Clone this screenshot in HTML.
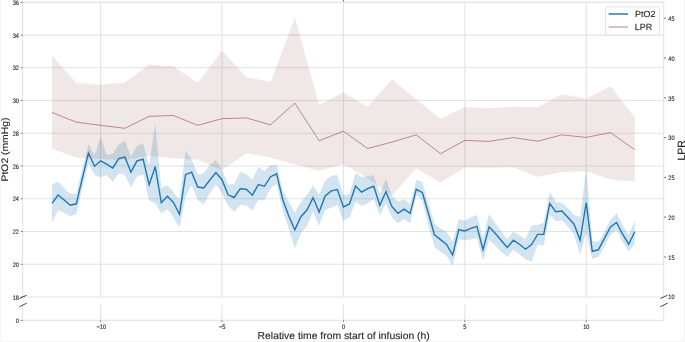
<!DOCTYPE html>
<html><head><meta charset="utf-8"><style>
html,body{margin:0;padding:0;background:#fff;}
body{width:685px;height:342px;overflow:hidden;}
svg{display:block;will-change:transform;}
text{font-family:"Liberation Sans", sans-serif;fill:#262626;stroke:#262626;stroke-width:0.12px;}
svg{text-rendering:geometricPrecision;}
</style></head><body>
<svg width="685" height="342" viewBox="0 0 685 342">
<rect x="0" y="0" width="685" height="342" fill="#fff"/>
<path d="M0.5 0V341.5H684.5V0" fill="none" stroke="#f4f4f4" stroke-width="1"/>
<line x1="22.6" x2="663.7" y1="297.00" y2="297.00" stroke="#e3e3e3" stroke-width="1.1"/>
<line x1="22.6" x2="663.7" y1="264.26" y2="264.26" stroke="#e3e3e3" stroke-width="1.1"/>
<line x1="22.6" x2="663.7" y1="231.52" y2="231.52" stroke="#e3e3e3" stroke-width="1.1"/>
<line x1="22.6" x2="663.7" y1="198.78" y2="198.78" stroke="#e3e3e3" stroke-width="1.1"/>
<line x1="22.6" x2="663.7" y1="166.04" y2="166.04" stroke="#e3e3e3" stroke-width="1.1"/>
<line x1="22.6" x2="663.7" y1="133.30" y2="133.30" stroke="#e3e3e3" stroke-width="1.1"/>
<line x1="22.6" x2="663.7" y1="100.56" y2="100.56" stroke="#e3e3e3" stroke-width="1.1"/>
<line x1="22.6" x2="663.7" y1="67.82" y2="67.82" stroke="#e3e3e3" stroke-width="1.1"/>
<line x1="22.6" x2="663.7" y1="35.08" y2="35.08" stroke="#e3e3e3" stroke-width="1.1"/>
<line x1="22.6" x2="663.7" y1="2.34" y2="2.34" stroke="#e3e3e3" stroke-width="1.1"/>
<line x1="100.60" x2="100.60" y1="2.4" y2="296.9" stroke="#e3e3e3" stroke-width="1.1"/>
<line x1="100.60" x2="100.60" y1="304.6" y2="320.4" stroke="#e3e3e3" stroke-width="1.1"/>
<line x1="222.00" x2="222.00" y1="2.4" y2="296.9" stroke="#e3e3e3" stroke-width="1.1"/>
<line x1="222.00" x2="222.00" y1="304.6" y2="320.4" stroke="#e3e3e3" stroke-width="1.1"/>
<line x1="343.40" x2="343.40" y1="2.4" y2="296.9" stroke="#e3e3e3" stroke-width="1.1"/>
<line x1="343.40" x2="343.40" y1="304.6" y2="320.4" stroke="#e3e3e3" stroke-width="1.1"/>
<line x1="464.80" x2="464.80" y1="2.4" y2="296.9" stroke="#e3e3e3" stroke-width="1.1"/>
<line x1="464.80" x2="464.80" y1="304.6" y2="320.4" stroke="#e3e3e3" stroke-width="1.1"/>
<line x1="586.20" x2="586.20" y1="2.4" y2="296.9" stroke="#e3e3e3" stroke-width="1.1"/>
<line x1="586.20" x2="586.20" y1="304.6" y2="320.4" stroke="#e3e3e3" stroke-width="1.1"/>
<path d="M22.6 296.9V2.4H663.7V296.9" fill="none" stroke="#e6e6e6" stroke-width="1.2"/>
<path d="M22.6 304.6V320.4H663.7V304.6" fill="none" stroke="#e6e6e6" stroke-width="1.2"/>
<polygon points="52.04,184.20 58.11,181.70 64.18,188.30 70.25,193.70 76.32,193.70 82.39,169.00 88.46,144.20 94.53,155.30 100.60,136.70 106.67,154.70 112.74,153.70 118.81,144.70 124.88,140.80 130.95,156.70 137.02,145.80 143.09,143.30 149.16,166.00 155.23,123.00 161.30,188.00 167.37,185.30 173.44,191.70 179.51,200.00 185.58,150.80 191.65,159.20 197.72,175.00 203.79,173.00 209.86,164.70 215.93,160.00 222.00,169.70 228.07,184.20 234.14,184.20 240.21,171.70 246.28,174.20 252.35,180.00 258.42,166.70 264.49,171.30 270.56,165.00 276.63,164.70 282.70,190.50 288.77,202.00 294.84,212.50 300.91,201.70 306.98,195.00 313.05,185.50 319.12,194.50 325.19,180.80 331.26,175.80 337.33,175.00 343.40,195.00 349.47,194.20 355.54,173.00 361.61,177.00 367.68,176.30 373.75,175.30 379.82,193.70 385.89,178.70 391.96,195.80 398.03,201.70 404.10,199.20 410.17,204.20 416.24,179.70 422.31,182.00 428.38,203.50 434.45,223.30 440.52,228.50 446.59,232.00 452.66,241.70 458.73,219.20 464.80,220.80 470.87,217.50 476.94,215.00 483.01,238.30 489.08,214.20 495.15,223.00 501.22,231.20 507.29,239.20 513.36,231.50 519.43,235.20 525.50,239.20 531.57,225.40 537.64,225.00 543.71,222.50 549.78,192.00 555.85,202.00 561.92,202.70 567.99,208.30 574.06,215.00 580.13,217.00 586.20,168.00 592.27,241.00 598.34,242.00 604.41,231.70 610.48,219.70 616.55,213.00 622.62,225.00 628.69,235.00 634.76,220.80 634.76,243.70 628.69,251.50 622.62,242.00 616.55,230.00 610.48,234.70 604.41,246.50 598.34,256.80 592.27,259.00 586.20,233.00 580.13,255.00 574.06,234.20 567.99,226.70 561.92,220.20 555.85,221.50 549.78,214.50 543.71,245.80 537.64,244.20 531.57,262.00 525.50,259.20 519.43,254.20 513.36,250.00 507.29,257.00 501.22,251.70 495.15,245.80 489.08,240.00 483.01,260.80 476.94,237.80 470.87,239.50 464.80,240.20 458.73,239.20 452.66,265.80 446.59,255.80 440.52,251.70 434.45,246.70 428.38,225.00 422.31,201.00 416.24,195.00 410.17,223.30 404.10,219.20 398.03,223.30 391.96,217.50 385.89,203.30 379.82,215.80 373.75,199.20 367.68,203.30 361.61,206.00 355.54,201.70 349.47,217.50 343.40,220.80 337.33,205.00 331.26,207.50 325.19,210.00 319.12,225.80 313.05,211.70 306.98,225.80 300.91,233.30 294.84,248.50 288.77,229.00 282.70,210.00 276.63,184.20 270.56,188.00 264.49,200.20 258.42,199.60 252.35,210.50 246.28,205.30 240.21,205.00 234.14,211.70 228.07,206.00 222.00,193.00 215.93,184.70 209.86,193.30 203.79,204.70 197.72,200.00 191.65,185.00 185.58,196.70 179.51,227.50 173.44,217.50 167.37,209.20 161.30,213.30 155.23,203.30 149.16,200.50 143.09,174.20 137.02,176.70 130.95,187.50 124.88,175.00 118.81,173.30 112.74,181.70 106.67,175.00 100.60,177.50 94.53,175.00 88.46,163.30 82.39,188.00 76.32,214.20 70.25,216.30 64.18,213.00 58.11,210.00 52.04,222.50" fill="#1f77b4" fill-opacity="0.2"/>
<polyline points="52.04,203.30 58.11,195.00 64.18,200.00 70.25,205.30 76.32,203.80 82.39,178.00 88.46,153.00 94.53,166.20 100.60,160.80 106.67,164.20 112.74,168.00 118.81,158.70 124.88,157.00 130.95,172.20 137.02,160.80 143.09,159.20 149.16,184.70 155.23,166.70 161.30,202.80 167.37,196.30 173.44,202.50 179.51,214.20 185.58,174.70 191.65,172.20 197.72,187.00 203.79,188.00 209.86,180.00 215.93,172.50 222.00,179.70 228.07,194.80 234.14,197.50 240.21,188.70 246.28,189.20 252.35,195.20 258.42,184.50 264.49,186.30 270.56,176.70 276.63,173.80 282.70,199.50 288.77,216.00 294.84,229.80 300.91,216.70 306.98,210.00 313.05,197.60 319.12,212.00 325.19,196.00 331.26,190.90 337.33,189.50 343.40,207.00 349.47,204.00 355.54,186.00 361.61,192.20 367.68,188.70 373.75,186.30 379.82,205.40 385.89,191.80 391.96,206.70 398.03,213.30 404.10,209.20 410.17,213.30 416.24,189.30 422.31,192.50 428.38,213.30 434.45,234.80 440.52,239.60 446.59,244.50 452.66,255.00 458.73,229.60 464.80,231.00 470.87,228.30 476.94,226.30 483.01,249.70 489.08,226.80 495.15,233.30 501.22,240.50 507.29,247.50 513.36,240.20 519.43,244.20 525.50,249.20 531.57,244.60 537.64,234.40 543.71,234.40 549.78,203.50 555.85,211.80 561.92,211.00 567.99,217.50 574.06,224.20 580.13,240.30 586.20,202.50 592.27,251.30 598.34,249.80 604.41,238.30 610.48,227.00 616.55,222.50 622.62,234.20 628.69,244.20 634.76,231.80" fill="none" stroke="#1f77b4" stroke-width="1.4" stroke-linejoin="miter" stroke-miterlimit="4"/>
<polygon points="52.04,55.70 76.32,83.10 100.60,84.90 124.88,82.40 149.16,64.40 173.44,66.20 197.72,82.90 222.00,50.70 246.28,76.90 270.56,82.20 294.84,17.50 319.12,104.90 343.40,92.20 367.68,106.90 391.96,79.50 416.24,99.20 440.52,119.00 464.80,106.90 489.08,107.90 513.36,106.90 537.64,107.20 561.92,94.20 586.20,98.70 610.48,86.20 634.76,117.40 634.76,181.40 610.48,179.50 586.20,171.20 561.92,172.00 537.64,176.70 513.36,167.50 489.08,168.00 464.80,167.50 440.52,182.50 416.24,168.30 391.96,195.80 367.68,178.00 343.40,164.20 319.12,170.80 294.84,164.50 270.56,157.50 246.28,153.20 222.00,170.00 197.72,159.70 173.44,158.30 149.16,155.80 124.88,160.00 100.60,159.00 76.32,157.50 52.04,148.70" fill="#8c4b41" fill-opacity="0.13"/>
<polyline points="52.04,112.50 76.32,122.20 100.60,125.30 124.88,128.30 149.16,116.30 173.44,115.50 197.72,125.30 222.00,118.70 246.28,117.90 270.56,124.80 294.84,103.10 319.12,140.70 343.40,131.20 367.68,148.50 391.96,142.10 416.24,134.80 440.52,153.70 464.80,140.40 489.08,141.40 513.36,137.60 537.64,141.20 561.92,134.90 586.20,137.40 610.48,132.60 634.76,149.70" fill="none" stroke="#8c3c3c" stroke-opacity="0.55" stroke-width="1.0"/>
<line x1="20.8" x2="22.6" y1="297.00" y2="297.00" stroke="#666" stroke-width="0.9"/>
<text x="19.0" y="300.20" text-anchor="end" font-size="6.4" textLength="6.26" lengthAdjust="spacingAndGlyphs">18</text>
<line x1="20.8" x2="22.6" y1="264.26" y2="264.26" stroke="#666" stroke-width="0.9"/>
<text x="19.0" y="266.86" text-anchor="end" font-size="6.4" textLength="6.26" lengthAdjust="spacingAndGlyphs">20</text>
<line x1="20.8" x2="22.6" y1="231.52" y2="231.52" stroke="#666" stroke-width="0.9"/>
<text x="19.0" y="234.12" text-anchor="end" font-size="6.4" textLength="6.26" lengthAdjust="spacingAndGlyphs">22</text>
<line x1="20.8" x2="22.6" y1="198.78" y2="198.78" stroke="#666" stroke-width="0.9"/>
<text x="19.0" y="201.38" text-anchor="end" font-size="6.4" textLength="6.26" lengthAdjust="spacingAndGlyphs">24</text>
<line x1="20.8" x2="22.6" y1="166.04" y2="166.04" stroke="#666" stroke-width="0.9"/>
<text x="19.0" y="168.64" text-anchor="end" font-size="6.4" textLength="6.26" lengthAdjust="spacingAndGlyphs">26</text>
<line x1="20.8" x2="22.6" y1="133.30" y2="133.30" stroke="#666" stroke-width="0.9"/>
<text x="19.0" y="135.90" text-anchor="end" font-size="6.4" textLength="6.26" lengthAdjust="spacingAndGlyphs">28</text>
<line x1="20.8" x2="22.6" y1="100.56" y2="100.56" stroke="#666" stroke-width="0.9"/>
<text x="19.0" y="103.16" text-anchor="end" font-size="6.4" textLength="6.26" lengthAdjust="spacingAndGlyphs">30</text>
<line x1="20.8" x2="22.6" y1="67.82" y2="67.82" stroke="#666" stroke-width="0.9"/>
<text x="19.0" y="70.42" text-anchor="end" font-size="6.4" textLength="6.26" lengthAdjust="spacingAndGlyphs">32</text>
<line x1="20.8" x2="22.6" y1="35.08" y2="35.08" stroke="#666" stroke-width="0.9"/>
<text x="19.0" y="37.68" text-anchor="end" font-size="6.4" textLength="6.26" lengthAdjust="spacingAndGlyphs">34</text>
<line x1="20.8" x2="22.6" y1="2.34" y2="2.34" stroke="#666" stroke-width="0.9"/>
<text x="19.0" y="4.94" text-anchor="end" font-size="6.4" textLength="6.26" lengthAdjust="spacingAndGlyphs">36</text>
<line x1="20.8" x2="22.6" y1="320.4" y2="320.4" stroke="#666" stroke-width="0.9"/>
<text x="19.0" y="322.90" text-anchor="end" font-size="6.4" textLength="3.13" lengthAdjust="spacingAndGlyphs">0</text>
<line x1="663.9" x2="666.0" y1="257.00" y2="257.00" stroke="#666" stroke-width="0.9"/>
<text x="668.3" y="259.85" font-size="6.4" textLength="6.26" lengthAdjust="spacingAndGlyphs">15</text>
<line x1="663.9" x2="666.0" y1="217.20" y2="217.20" stroke="#666" stroke-width="0.9"/>
<text x="668.3" y="220.05" font-size="6.4" textLength="6.26" lengthAdjust="spacingAndGlyphs">20</text>
<line x1="663.9" x2="666.0" y1="177.40" y2="177.40" stroke="#666" stroke-width="0.9"/>
<text x="668.3" y="180.25" font-size="6.4" textLength="6.26" lengthAdjust="spacingAndGlyphs">25</text>
<line x1="663.9" x2="666.0" y1="137.60" y2="137.60" stroke="#666" stroke-width="0.9"/>
<text x="668.3" y="140.45" font-size="6.4" textLength="6.26" lengthAdjust="spacingAndGlyphs">30</text>
<line x1="663.9" x2="666.0" y1="97.80" y2="97.80" stroke="#666" stroke-width="0.9"/>
<text x="668.3" y="100.65" font-size="6.4" textLength="6.26" lengthAdjust="spacingAndGlyphs">35</text>
<line x1="663.9" x2="666.0" y1="58.00" y2="58.00" stroke="#666" stroke-width="0.9"/>
<text x="668.3" y="60.85" font-size="6.4" textLength="6.26" lengthAdjust="spacingAndGlyphs">40</text>
<line x1="663.9" x2="666.0" y1="18.20" y2="18.20" stroke="#666" stroke-width="0.9"/>
<text x="668.3" y="21.05" font-size="6.4" textLength="6.26" lengthAdjust="spacingAndGlyphs">45</text>
<text x="668.3" y="299.00" font-size="6.4" textLength="6.26" lengthAdjust="spacingAndGlyphs">10</text>
<line x1="100.60" x2="100.60" y1="320.4" y2="322.2" stroke="#666" stroke-width="0.9"/>
<text x="101.30" y="328.6" text-anchor="middle" font-size="6.4" textLength="9.55" lengthAdjust="spacingAndGlyphs">−10</text>
<line x1="222.00" x2="222.00" y1="320.4" y2="322.2" stroke="#666" stroke-width="0.9"/>
<text x="222.10" y="328.6" text-anchor="middle" font-size="6.4" textLength="6.42" lengthAdjust="spacingAndGlyphs">−5</text>
<line x1="343.40" x2="343.40" y1="320.4" y2="322.2" stroke="#666" stroke-width="0.9"/>
<text x="343.50" y="328.6" text-anchor="middle" font-size="6.4" textLength="3.13" lengthAdjust="spacingAndGlyphs">0</text>
<line x1="464.80" x2="464.80" y1="320.4" y2="322.2" stroke="#666" stroke-width="0.9"/>
<text x="464.90" y="328.6" text-anchor="middle" font-size="6.4" textLength="3.13" lengthAdjust="spacingAndGlyphs">5</text>
<line x1="586.20" x2="586.20" y1="320.4" y2="322.2" stroke="#666" stroke-width="0.9"/>
<text x="586.30" y="328.6" text-anchor="middle" font-size="6.4" textLength="6.26" lengthAdjust="spacingAndGlyphs">10</text>
<line x1="19.4" y1="298.6" x2="26.7" y2="295.2" stroke="#333" stroke-width="0.9"/>
<line x1="19.4" y1="306.7" x2="26.7" y2="303.2" stroke="#333" stroke-width="0.9"/>
<line x1="660.5" y1="298.5" x2="667.6" y2="295.2" stroke="#333" stroke-width="0.9"/>
<line x1="660.4" y1="306.7" x2="667.6" y2="303.1" stroke="#333" stroke-width="0.9"/>
<text x="343.65" y="339.15" text-anchor="middle" font-size="10.1" textLength="172.1" lengthAdjust="spacingAndGlyphs">Relative time from start of infusion (h)</text>
<text transform="translate(7.9,149.55) rotate(-90)" text-anchor="middle" font-size="9.4" textLength="63.8" lengthAdjust="spacingAndGlyphs">PtO2 (mmHg)</text>
<text transform="translate(685.0,150.4) rotate(-90)" text-anchor="middle" font-size="10.5">LPR</text>
<rect x="605.6" y="6.9" width="53.8" height="28.4" rx="2" ry="2" fill="#fff" fill-opacity="0.8" stroke="#dedede" stroke-width="0.9"/>
<line x1="608.7" x2="628" y1="14.0" y2="14.0" stroke="#4b8fc6" stroke-width="1.8"/>
<line x1="608.7" x2="628" y1="27.0" y2="27.0" stroke="#d7babe" stroke-width="1.8"/>
<text x="635.0" y="17.1" font-size="8.9" textLength="20.4" lengthAdjust="spacingAndGlyphs">PtO2</text>
<text x="634.8" y="30.0" font-size="8.9">LPR</text>
<rect x="342.8" y="0" width="1.2" height="1.6" fill="#888"/>
</svg>
</body></html>
